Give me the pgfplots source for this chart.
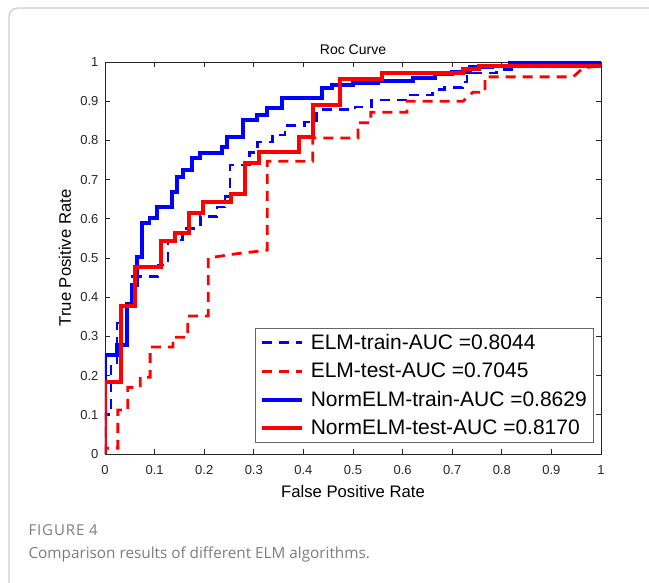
\documentclass[border=0pt]{standalone}
\usepackage{pgfplots}
\pgfplotsset{compat=1.18}
\usepackage{fontspec}
\setmainfont{Liberation Sans}
\newfontfamily\capfont{Open Sans}
\newfontfamily\capfontsp[LetterSpace=6]{Open Sans}
\definecolor{axgray}{RGB}{38,38,38}
\definecolor{capgray}{RGB}{125,125,125}

\begin{document}
\begin{tikzpicture}[x=1pt,y=1pt]
\path[use as bounding box] (0,0) rectangle (649,583);
% figure frame (cropped at right and bottom)
\draw[gray!40, line width=1.3pt, rounded corners=9pt] (9,-10) -- (9,575) -- (670,575);
\begin{axis}[
    at={(105pt,129pt)}, anchor=south west,
    scale only axis, width=496pt, height=392pt,
    xmin=0, xmax=1, ymin=0, ymax=1,
    xtick={0,0.1,0.2,0.3,0.4,0.5,0.6,0.7,0.8,0.9,1},
    ytick={0,0.1,0.2,0.3,0.4,0.5,0.6,0.7,0.8,0.9,1},
    tick align=inside, major tick length=5pt,
    axis line style={axgray, line width=0.8pt},
    every tick/.style={axgray, line width=0.8pt},
    tick label style={font=\fontsize{13}{15}\selectfont, text=axgray},
    xticklabel style={yshift=-8pt},
    yticklabel style={xshift=-3pt},
    /pgf/number format/assume math mode=true,
    title={Roc Curve},
    title style={font=\fontsize{14}{16}\selectfont, yshift=-2pt},
    xlabel={False Positive Rate},
    ylabel={True Positive Rate},
    label style={font=\fontsize{16.7}{19}\selectfont},
    xlabel style={at={(axis description cs:0.5,-0.097)}, anchor=center},
    ylabel style={at={(axis description cs:-0.081,0.5)}, anchor=center},
    legend style={at={(0.302,0.029)}, anchor=south west,
        draw=gray!80!black, line width=0.8pt, fill=white,
        font=\fontsize{21}{25}\selectfont, row sep=8pt,
        inner xsep=5pt, inner ysep=4pt,
        /tikz/every odd column/.append style={column sep=5pt}},
    legend cell align=left,
    legend image code/.code={\draw[#1] (0pt,0pt) -- (40pt,0pt);},
]
% ELM-train (blue dashed)
\addplot[blue, line width=2.8pt, dash pattern=on 10pt off 7pt] coordinates {
(0,0) (0,0.10) (0.012,0.10) (0.012,0.232) (0.024,0.232) (0.024,0.334)
(0.046,0.334) (0.046,0.385) (0.056,0.385) (0.056,0.452) (0.107,0.452)
(0.107,0.482) (0.127,0.482) (0.127,0.546) (0.157,0.546) (0.157,0.576)
(0.192,0.576) (0.192,0.605) (0.226,0.605) (0.226,0.630) (0.242,0.630)
(0.242,0.656) (0.252,0.656) (0.252,0.737) (0.292,0.737) (0.292,0.770)
(0.308,0.770) (0.308,0.796) (0.337,0.796) (0.337,0.814) (0.363,0.814)
(0.363,0.839) (0.403,0.839) (0.403,0.847) (0.427,0.847) (0.427,0.878)
(0.504,0.878) (0.504,0.885) (0.538,0.885) (0.538,0.903) (0.615,0.903)
(0.615,0.916) (0.661,0.916) (0.661,0.929) (0.685,0.929) (0.685,0.934)
(0.720,0.934) (0.720,0.949) (0.730,0.949) (0.730,0.972) (0.790,0.972)
(0.790,0.980) (0.831,0.980) (0.831,1) (1,1)};
\addlegendentry{ELM-train-AUC =0.8044}
% ELM-test (red dashed)
\addplot[red, line width=2.8pt, dash pattern=on 10pt off 7pt] coordinates {
(0,0) (0,0.015) (0.026,0.015) (0.026,0.112) (0.046,0.112) (0.046,0.170)
(0.071,0.170) (0.071,0.196) (0.091,0.196) (0.091,0.273) (0.137,0.273)
(0.137,0.298) (0.167,0.298) (0.167,0.352) (0.208,0.352) (0.208,0.500)
(0.260,0.510) (0.327,0.520) (0.327,0.747) (0.419,0.747) (0.419,0.806)
(0.510,0.806) (0.510,0.845) (0.536,0.845) (0.536,0.872) (0.609,0.872)
(0.609,0.900) (0.722,0.900) (0.742,0.923) (0.766,0.923) (0.766,0.962)
(0.944,0.962) (0.964,0.985) (1,0.99)};
\addlegendentry{ELM-test-AUC =0.7045}
% NormELM-train (blue solid)
\addplot[blue, line width=3.6pt] coordinates {
(0,0) (0,0.253) (0.024,0.253) (0.024,0.278) (0.044,0.278) (0.044,0.383)
(0.054,0.383) (0.054,0.431) (0.064,0.431) (0.064,0.503) (0.075,0.503)
(0.075,0.589) (0.090,0.589) (0.090,0.602) (0.105,0.602) (0.105,0.630)
(0.135,0.630) (0.135,0.668) (0.145,0.668) (0.145,0.707) (0.157,0.707)
(0.157,0.724) (0.175,0.724) (0.175,0.755) (0.192,0.755) (0.192,0.768)
(0.236,0.768) (0.236,0.783) (0.246,0.783) (0.246,0.809) (0.278,0.809)
(0.278,0.852) (0.306,0.852) (0.306,0.865) (0.327,0.865) (0.327,0.883)
(0.357,0.883) (0.357,0.908) (0.438,0.908) (0.438,0.934) (0.458,0.934)
(0.458,0.941) (0.500,0.941) (0.500,0.946) (0.550,0.946) (0.550,0.951)
(0.621,0.951) (0.621,0.959) (0.665,0.959) (0.665,0.969) (0.700,0.969)
(0.700,0.975) (0.736,0.975) (0.736,0.987) (0.780,0.987) (0.780,0.991)
(0.817,0.991) (0.817,0.997) (0.857,0.997) (0.857,1) (1,1)};
\addlegendentry{NormELM-train-AUC =0.8629}
% NormELM-test (red solid)
\addplot[red, line width=3.6pt] coordinates {
(0,0) (0,0.184) (0.032,0.184) (0.032,0.378) (0.060,0.378) (0.060,0.477)
(0.113,0.477) (0.113,0.543) (0.141,0.543) (0.141,0.563) (0.169,0.563)
(0.169,0.615) (0.198,0.615) (0.198,0.643) (0.254,0.643) (0.254,0.663)
(0.282,0.663) (0.282,0.742) (0.310,0.742) (0.310,0.770) (0.391,0.770)
(0.391,0.809) (0.419,0.809) (0.419,0.890) (0.474,0.890) (0.474,0.957)
(0.558,0.957) (0.558,0.972) (0.722,0.972) (0.722,0.982) (0.754,0.982)
(0.754,0.990) (1,0.990)};
\addlegendentry{NormELM-test-AUC =0.8170}
\end{axis}
\node[anchor=base west, text=capgray, font=\capfontsp\fontsize{15}{17}\selectfont] at (25,47) {FIGURE 4};
\node[anchor=base west, text=capgray, font=\capfont\fontsize{15.3}{19}\selectfont] at (25,24) {Comparison results of different ELM algorithms.};
\end{tikzpicture}
\end{document}
